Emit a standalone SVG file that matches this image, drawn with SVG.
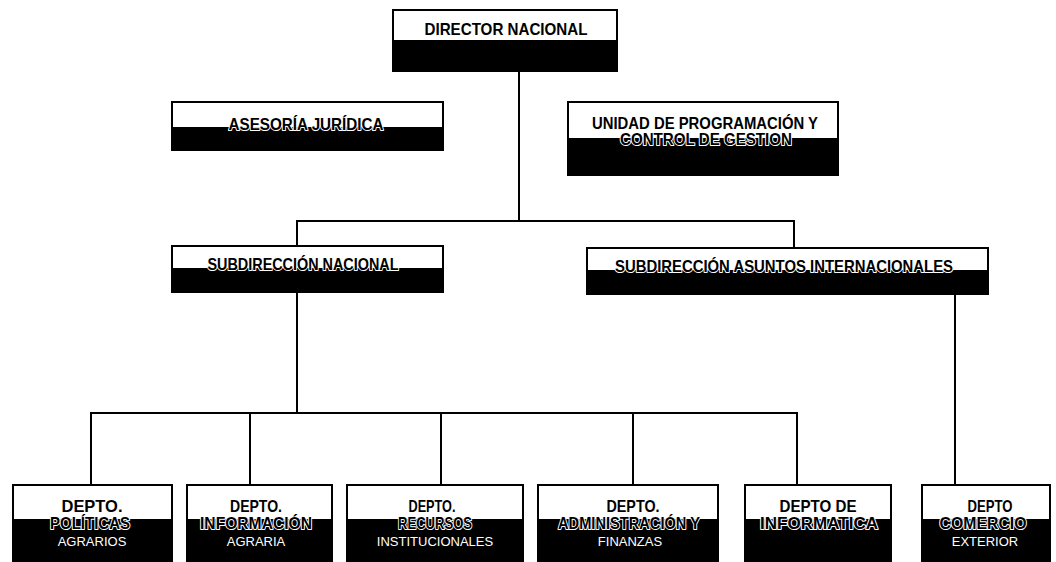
<svg xmlns="http://www.w3.org/2000/svg" width="1056" height="562" viewBox="0 0 1056 562">
<style>
.box{fill:#fff;stroke:#000;stroke-width:2}
.band{fill:#000}
.t{font-family:"Liberation Sans Narrow","Liberation Sans",Arial,sans-serif;font-size:16.5px;font-weight:bold;text-anchor:middle;fill:#000}
.o{stroke:#fff;stroke-width:2;paint-order:stroke;stroke-linejoin:round}
.w{fill:#fff;font-size:13px;font-weight:normal}
.c{fill:none;stroke:#000;stroke-width:2}
</style>
<rect width="1056" height="562" fill="#fff"/>
<g id="connectors">
<path class="c" d="M519 71V221M297 246V221H794V248"/>
<path class="c" d="M297 292V413M91 485V413H797V485M250 413V485M441 413V485M633 413V485"/>
<path class="c" d="M955 294V485"/>
</g>
<g id="director">
<rect class="box" x="393" y="10" width="224" height="61"/>
<rect class="band" x="393" y="40" width="224" height="31"/>
<text class="t o" x="506" y="35" textLength="163" lengthAdjust="spacingAndGlyphs">DIRECTOR NACIONAL</text>
</g>
<g id="asesoria">
<rect class="box" x="172" y="102" width="271" height="48"/>
<rect class="band" x="172" y="127" width="271" height="23"/>
<text class="t o" x="306" y="130" textLength="155" lengthAdjust="spacingAndGlyphs">ASESORÍA JURÍDICA</text>
</g>
<g id="unidad">
<rect class="box" x="568" y="102" width="270" height="73"/>
<rect class="band" x="568" y="138" width="270" height="37"/>
<text class="t" x="705" y="129" textLength="226" lengthAdjust="spacingAndGlyphs">UNIDAD DE PROGRAMACIÓN Y</text>
<text class="t o" x="706" y="145" textLength="172" lengthAdjust="spacingAndGlyphs">CONTROL DE GESTION</text>
</g>
<g id="subnacional">
<rect class="box" x="172" y="246" width="271" height="46"/>
<rect class="band" x="172" y="268" width="271" height="24"/>
<text class="t o" x="303" y="270" textLength="191" lengthAdjust="spacingAndGlyphs">SUBDIRECCIÓN NACIONAL</text>
</g>
<g id="subinternacional">
<rect class="box" x="587" y="248" width="401" height="46"/>
<rect class="band" x="587" y="270" width="401" height="24"/>
<text class="t o" x="784" y="272" textLength="338" lengthAdjust="spacingAndGlyphs">SUBDIRECCIÓN ASUNTOS INTERNACIONALES</text>
</g>
<g id="politicas">
<rect class="box" x="13" y="485" width="159" height="80"/>
<rect class="band" x="13" y="519" width="159" height="46"/>
<text class="t" x="92" y="512" textLength="61" lengthAdjust="spacingAndGlyphs">DEPTO.</text>
<text class="t o" x="90" y="529" textLength="80" lengthAdjust="spacingAndGlyphs">POLÍTICAS</text>
<text class="t w" x="92" y="546">AGRARIOS</text>
</g>
<g id="informacion">
<rect class="box" x="187" y="485" width="145" height="80"/>
<rect class="band" x="187" y="519" width="145" height="46"/>
<text class="t" x="256" y="512" textLength="52" lengthAdjust="spacingAndGlyphs">DEPTO.</text>
<text class="t o" x="256" y="529" textLength="112" lengthAdjust="spacingAndGlyphs">INFORMACIÓN</text>
<text class="t w" x="256" y="546">AGRARIA</text>
</g>
<g id="recursos">
<rect class="box" x="347" y="485" width="176" height="80"/>
<rect class="band" x="347" y="519" width="176" height="46"/>
<text class="t" x="432" y="512" textLength="47" lengthAdjust="spacingAndGlyphs">DEPTO.</text>
<text class="t o" x="435" y="529" textLength="74" lengthAdjust="spacingAndGlyphs">RECURSOS</text>
<text class="t w" x="435" y="546">INSTITUCIONALES</text>
</g>
<g id="administracion">
<rect class="box" x="538" y="485" width="180" height="80"/>
<rect class="band" x="538" y="519" width="180" height="46"/>
<text class="t" x="633" y="512" textLength="53" lengthAdjust="spacingAndGlyphs">DEPTO.</text>
<text class="t o" x="629" y="529" textLength="142" lengthAdjust="spacingAndGlyphs">ADMINISTRACIÓN Y</text>
<text class="t w" x="630" y="546">FINANZAS</text>
</g>
<g id="informatica">
<rect class="box" x="745" y="485" width="146" height="80"/>
<rect class="band" x="745" y="519" width="146" height="46"/>
<text class="t" x="818" y="512" textLength="77" lengthAdjust="spacingAndGlyphs">DEPTO DE</text>
<text class="t o" x="819" y="529" textLength="118" lengthAdjust="spacingAndGlyphs">INFORMATICA</text>
</g>
<g id="comercio">
<rect class="box" x="922" y="485" width="128" height="80"/>
<rect class="band" x="922" y="519" width="128" height="46"/>
<text class="t" x="990" y="512" textLength="45" lengthAdjust="spacingAndGlyphs">DEPTO</text>
<text class="t o" x="983" y="529" textLength="87" lengthAdjust="spacingAndGlyphs">COMERCIO</text>
<text class="t w" x="985" y="546">EXTERIOR</text>
</g>
</svg>
